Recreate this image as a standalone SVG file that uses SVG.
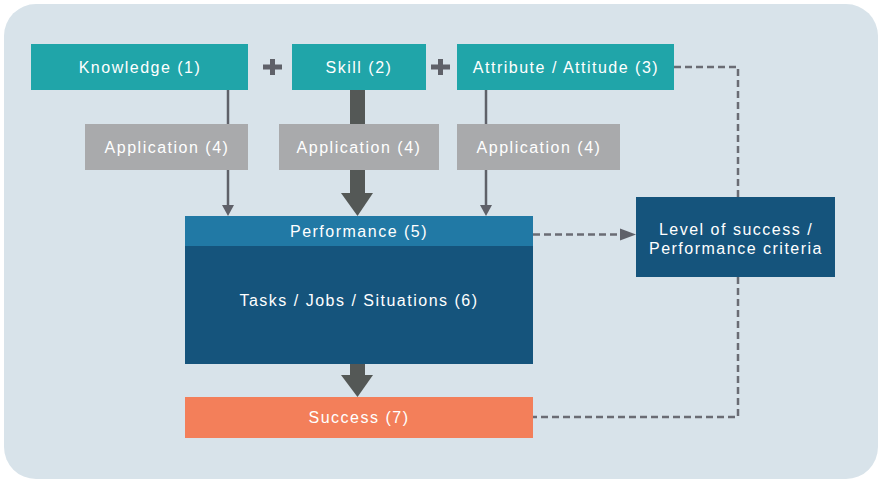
<svg xmlns="http://www.w3.org/2000/svg" width="878" height="480" viewBox="0 0 878 480">
<style>
.t{font-family:"Liberation Sans",Arial,sans-serif;font-size:16px;fill:#ffffff;text-anchor:middle;letter-spacing:1.5px}
.teal{fill:#20a5a9}
.grey{fill:#a9aaac}
.line{stroke:#5f6169;stroke-width:2.5;fill:none}
.dash{stroke:#6a6c74;stroke-width:2.5;fill:none;stroke-dasharray:7 4}
.head{fill:#5f6169}
.big{fill:#545856}
.plus{fill:#5f6169}
</style>
<rect x="4" y="4" width="874" height="475" rx="32" fill="#d8e3ea"/>
<g id="connectors">
<line class="line" x1="228" y1="90" x2="228" y2="206"/>
<polygon class="head" points="222,205 234,205 228,216"/>
<line class="line" x1="486" y1="90" x2="486" y2="206"/>
<polygon class="head" points="480,205 492,205 486,216"/>
<rect class="big" x="350" y="90" width="15" height="104"/>
<polygon class="big" points="341,193 373,193 357.5,216"/>
<rect class="big" x="350" y="364" width="15" height="12"/>
<polygon class="big" points="341,375 373,375 357.5,397"/>
<line class="dash" x1="533" y1="234.5" x2="622" y2="234.5"/>
<polygon class="head" points="620,228.5 636,234.5 620,240.5"/>
<polyline class="dash" points="674,67 738,67 738,197"/>
<polyline class="dash" points="738,277 738,417 533,417"/>
</g>
<g id="plus1"><rect class="plus" x="263" y="64.5" width="19" height="5"/><rect class="plus" x="270" y="59" width="5" height="16"/></g>
<g id="plus2"><rect class="plus" x="431" y="64.5" width="19" height="5"/><rect class="plus" x="438" y="59" width="5" height="16"/></g>
<g id="knowledge"><rect class="teal" x="31" y="44" width="217" height="46"/><text class="t" x="140" y="73">Knowledge (1)</text></g>
<g id="skill"><rect class="teal" x="292" y="44" width="134" height="46"/><text class="t" x="359" y="73">Skill (2)</text></g>
<g id="attribute"><rect class="teal" x="457" y="44" width="217" height="46"/><text class="t" x="566" y="73">Attribute / Attitude (3)</text></g>
<g id="app1"><rect class="grey" x="85" y="124" width="163" height="46"/><text class="t" x="167" y="153">Application (4)</text></g>
<g id="app2"><rect class="grey" x="279" y="124" width="160" height="46"/><text class="t" x="359" y="153">Application (4)</text></g>
<g id="app3"><rect class="grey" x="457" y="124" width="163" height="46"/><text class="t" x="539" y="153">Application (4)</text></g>
<g id="performance"><rect x="185" y="216" width="348" height="30" fill="#2179a5"/><text class="t" x="359" y="237">Performance (5)</text></g>
<g id="tasks"><rect x="185" y="246" width="348" height="118" fill="#15547c"/><text class="t" x="359" y="306">Tasks / Jobs / Situations (6)</text></g>
<g id="success"><rect x="185" y="397" width="348" height="41" fill="#f37f5a"/><text class="t" x="359" y="423">Success (7)</text></g>
<g id="level"><rect x="636" y="197" width="199" height="80" fill="#15547c"/><text class="t" x="736" y="235">Level of success /</text><text class="t" x="736" y="254">Performance criteria</text></g>
</svg>
